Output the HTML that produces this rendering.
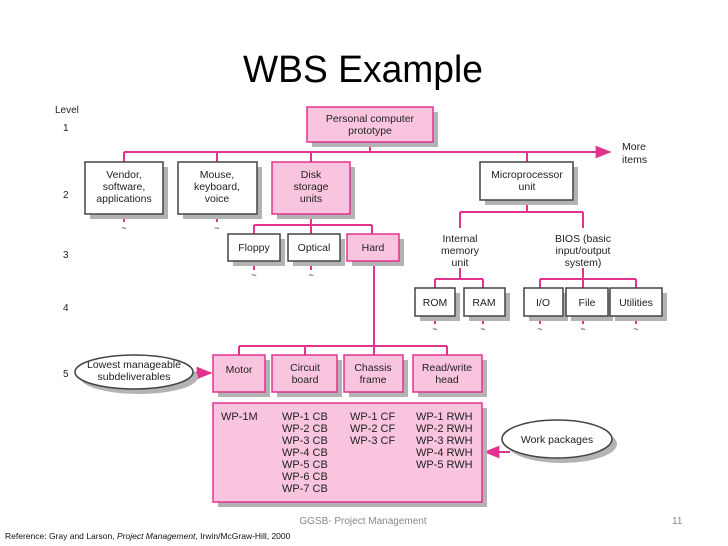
<!DOCTYPE html>
<html><head><meta charset="utf-8"><style>
html,body{margin:0;padding:0;background:#fff}
svg{display:block}
text{font-family:"Liberation Sans",Arial,sans-serif;fill:#222}
</style></head><body>
<svg width="728" height="546" viewBox="0 0 728 546" xmlns="http://www.w3.org/2000/svg">
<defs>
<marker id="ah" viewBox="0 0 10 10" refX="9" refY="5" markerWidth="8" markerHeight="8" orient="auto"><path d="M0,1 L10,5 L0,9 z" fill="#e2338f"/></marker>
</defs>
<text x="363" y="82" font-size="38" text-anchor="middle" textLength="240" lengthAdjust="spacingAndGlyphs" style="fill:#000">WBS Example</text>

<g font-size="10" style="font-size:10px">
<text x="55" y="113">Level</text>
<text x="63" y="131">1</text>
<text x="63" y="198">2</text>
<text x="63" y="258">3</text>
<text x="63" y="311">4</text>
<text x="63" y="377">5</text>
</g>

<!-- connectors -->
<g stroke="#e2338f" stroke-width="2" fill="none">
<line x1="370" y1="142" x2="370" y2="152"/>
<line x1="124" y1="152" x2="610" y2="152" marker-end="url(#ah)"/>
<line x1="124" y1="152" x2="124" y2="162"/>
<line x1="217" y1="152" x2="217" y2="162"/>
<line x1="311" y1="152" x2="311" y2="162"/>
<line x1="527" y1="152" x2="527" y2="162"/>
<line x1="124" y1="214" x2="124" y2="222"/>
<line x1="217" y1="214" x2="217" y2="222"/>
<line x1="311" y1="214" x2="311" y2="225"/>
<line x1="254" y1="225" x2="372" y2="225"/>
<line x1="254" y1="225" x2="254" y2="234"/>
<line x1="311" y1="225" x2="311" y2="234"/>
<line x1="372" y1="225" x2="372" y2="234"/>
<line x1="254" y1="261" x2="254" y2="270"/>
<line x1="311" y1="261" x2="311" y2="270"/>
<line x1="374" y1="261" x2="374" y2="355"/>
<line x1="239" y1="346" x2="447" y2="346"/>
<line x1="239" y1="346" x2="239" y2="355"/>
<line x1="305" y1="346" x2="305" y2="355"/>
<line x1="447" y1="346" x2="447" y2="355"/>
<line x1="527" y1="200" x2="527" y2="212"/>
<line x1="460" y1="212" x2="583" y2="212"/>
<line x1="460" y1="212" x2="460" y2="228"/>
<line x1="583" y1="212" x2="583" y2="228"/>
<line x1="460" y1="268" x2="460" y2="279"/>
<line x1="435" y1="279" x2="483" y2="279"/>
<line x1="435" y1="279" x2="435" y2="288"/>
<line x1="483" y1="279" x2="483" y2="288"/>
<line x1="583" y1="268" x2="583" y2="279"/>
<line x1="540" y1="279" x2="636" y2="279"/>
<line x1="540" y1="279" x2="540" y2="288"/>
<line x1="583" y1="279" x2="583" y2="288"/>
<line x1="636" y1="279" x2="636" y2="288"/>
<line x1="435" y1="316" x2="435" y2="324"/>
<line x1="483" y1="316" x2="483" y2="324"/>
<line x1="540" y1="316" x2="540" y2="324"/>
<line x1="583" y1="316" x2="583" y2="324"/>
<line x1="636" y1="316" x2="636" y2="324"/>
<line x1="193" y1="373" x2="211" y2="373" marker-end="url(#ah)"/>
<line x1="510" y1="452" x2="485" y2="452" marker-end="url(#ah)"/>
</g>
<g font-size="9" text-anchor="middle" style="font-size:9px">
<text x="124" y="231">~</text><text x="217" y="231">~</text>
<text x="254" y="278">~</text><text x="311" y="278">~</text>
<text x="435" y="332">~</text><text x="483" y="332">~</text><text x="540" y="332">~</text><text x="583" y="332">~</text><text x="636" y="332">~</text>
</g>

<!-- shadows -->
<g fill="#b3b3b3">
<rect x="312" y="112" width="126" height="35"/>
<rect x="90" y="167" width="78" height="52"/>
<rect x="183" y="167" width="79" height="52"/>
<rect x="277" y="167" width="78" height="52"/>
<rect x="485" y="167" width="93" height="38"/>
<rect x="233" y="239" width="52" height="27"/>
<rect x="293" y="239" width="52" height="27"/>
<rect x="352" y="239" width="52" height="27"/>
<rect x="420" y="293" width="40" height="28"/>
<rect x="469" y="293" width="41" height="28"/>
<rect x="529" y="293" width="39" height="28"/>
<rect x="571" y="293" width="42" height="28"/>
<rect x="615" y="293" width="52" height="28"/>
<rect x="218" y="360" width="52" height="37"/>
<rect x="277" y="360" width="65" height="37"/>
<rect x="349" y="360" width="59" height="37"/>
<rect x="418" y="360" width="69" height="37"/>
<rect x="218" y="408" width="269" height="99"/>
<ellipse cx="139" cy="377" rx="59" ry="17"/>
<ellipse cx="562" cy="444" rx="55" ry="19"/>
</g>
<!-- boxes -->
<g stroke-width="1.5">
<g fill="#f9c4de" stroke="#e2338f">
<rect x="307" y="107" width="126" height="35"/>
<rect x="272" y="162" width="78" height="52"/>
<rect x="347" y="234" width="52" height="27"/>
<rect x="213" y="355" width="52" height="37"/>
<rect x="272" y="355" width="65" height="37"/>
<rect x="344" y="355" width="59" height="37"/>
<rect x="413" y="355" width="69" height="37"/>
<rect x="213" y="403" width="269" height="99"/>
</g>
<g fill="#fff" stroke="#444">
<rect x="85" y="162" width="78" height="52"/>
<rect x="178" y="162" width="79" height="52"/>
<rect x="480" y="162" width="93" height="38"/>
<rect x="228" y="234" width="52" height="27"/>
<rect x="288" y="234" width="52" height="27"/>
<rect x="415" y="288" width="40" height="28"/>
<rect x="464" y="288" width="41" height="28"/>
<rect x="524" y="288" width="39" height="28"/>
<rect x="566" y="288" width="42" height="28"/>
<rect x="610" y="288" width="52" height="28"/>
</g>
<ellipse cx="134" cy="372" rx="59" ry="17" fill="#fff" stroke="#444"/>
<ellipse cx="557" cy="439" rx="55" ry="19" fill="#fff" stroke="#444"/>
</g>

<g font-size="10.5" text-anchor="middle" style="font-size:10.5px">
<text x="370" y="122">Personal computer</text><text x="370" y="134">prototype</text>
<text x="124" y="178">Vendor,</text><text x="124" y="190">software,</text><text x="124" y="202">applications</text>
<text x="217" y="178">Mouse,</text><text x="217" y="190">keyboard,</text><text x="217" y="202">voice</text>
<text x="311" y="178">Disk</text><text x="311" y="190">storage</text><text x="311" y="202">units</text>
<text x="527" y="178">Microprocessor</text><text x="527" y="190">unit</text>
<text x="254" y="251">Floppy</text><text x="314" y="251">Optical</text><text x="373" y="251">Hard</text>
<text x="460" y="242">Internal</text><text x="460" y="254">memory</text><text x="460" y="266">unit</text>
<text x="583" y="242">BIOS (basic</text><text x="583" y="254">input/output</text><text x="583" y="266">system)</text>
<text x="435" y="306">ROM</text><text x="484" y="306">RAM</text><text x="543" y="306">I/O</text><text x="587" y="306">File</text><text x="636" y="306">Utilities</text>
<text x="239" y="373">Motor</text>
<text x="305" y="371">Circuit</text><text x="305" y="383">board</text>
<text x="373" y="371">Chassis</text><text x="373" y="383">frame</text>
<text x="447" y="371">Read/write</text><text x="447" y="383">head</text>
<text x="134" y="368">Lowest manageable</text><text x="134" y="380">subdeliverables</text>
<text x="557" y="443">Work packages</text>
</g>
<g font-size="10.5" style="font-size:10.5px">
<text x="622" y="150">More</text><text x="622" y="163">items</text>
</g>
<g font-size="11" style="font-size:11px">
<text x="221" y="420">WP-1M</text>
<text x="282" y="420">WP-1 CB</text><text x="282" y="432">WP-2 CB</text><text x="282" y="444">WP-3 CB</text><text x="282" y="456">WP-4 CB</text><text x="282" y="468">WP-5 CB</text><text x="282" y="480">WP-6 CB</text><text x="282" y="492">WP-7 CB</text>
<text x="350" y="420">WP-1 CF</text><text x="350" y="432">WP-2 CF</text><text x="350" y="444">WP-3 CF</text>
<text x="416" y="420">WP-1 RWH</text><text x="416" y="432">WP-2 RWH</text><text x="416" y="444">WP-3 RWH</text><text x="416" y="456">WP-4 RWH</text><text x="416" y="468">WP-5 RWH</text>
</g>
<text x="363" y="524" font-size="10" text-anchor="middle" style="fill:#888;font-size:10px">GGSB- Project Management</text>
<text x="672" y="524" font-size="10" style="fill:#888;font-size:10px">11</text>
<text x="5" y="539" font-size="8.5" style="fill:#111;font-size:8.5px">Reference: Gray and Larson, <tspan font-style="italic">Project Management</tspan>, Irwin/McGraw-Hill, 2000</text>
</svg>
</body></html>
